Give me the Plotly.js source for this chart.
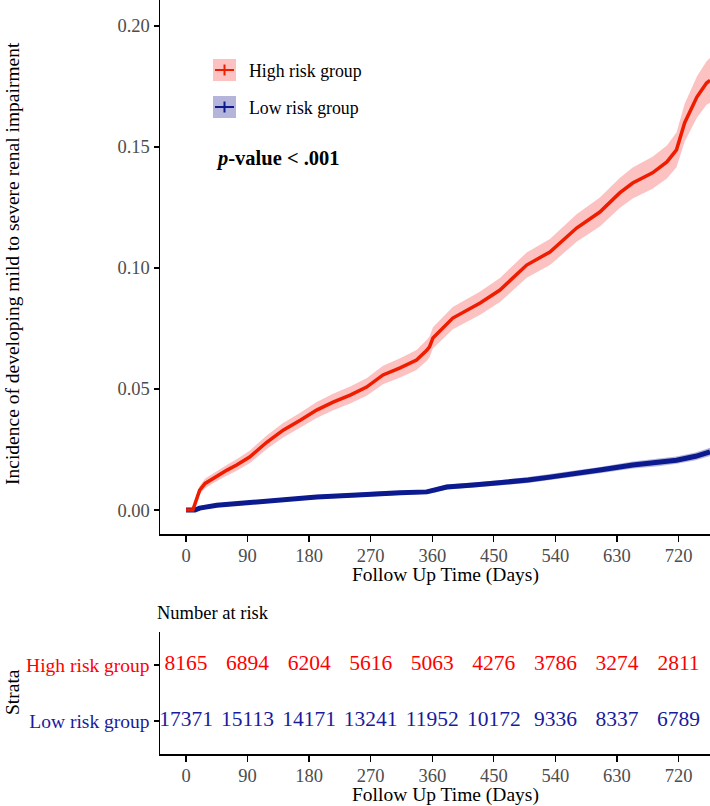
<!DOCTYPE html>
<html>
<head>
<meta charset="utf-8">
<script src="https://cdn.plot.ly/plotly-3.0.1.min.js"></script>
<style>html,body{margin:0;padding:0;background:#fff;}#chart{width:710px;height:806px;}</style>
</head>
<body>
<div id="chart"></div>
<script>
// ---- Data ----
const highDays = [0, 10, 16, 20, 28, 40, 60, 74, 93, 118, 142, 167, 191, 215, 240, 264, 288, 313, 337, 352, 356, 361, 390, 430, 459, 498, 532, 571, 605, 634, 653, 682, 703, 717, 729, 747, 761, 766];
const highEst  = [0, 0, 0.0049, 0.0082, 0.011, 0.0132, 0.0165, 0.0186, 0.0219, 0.028, 0.033, 0.0371, 0.0413, 0.0446, 0.0475, 0.0508, 0.0558, 0.0587, 0.062, 0.066, 0.0674, 0.0711, 0.0793, 0.0855, 0.0909, 0.1012, 0.1066, 0.1165, 0.1231, 0.131, 0.1351, 0.1393, 0.1438, 0.1488, 0.16, 0.1707, 0.1764, 0.1775];
const highHalfCI = [0, 0, 0.0015, 0.0017, 0.002, 0.002, 0.0022, 0.0024, 0.0026, 0.0028, 0.003, 0.0031, 0.0033, 0.0034, 0.0035, 0.0036, 0.0038, 0.004, 0.0041, 0.0043, 0.0043, 0.0044, 0.0046, 0.0048, 0.005, 0.0052, 0.0054, 0.0057, 0.006, 0.0062, 0.0064, 0.0066, 0.0068, 0.0072, 0.0078, 0.0085, 0.009, 0.0092];

const lowDays = [0, 13, 20, 30, 45, 89, 142, 191, 250, 288, 313, 352, 365, 381, 420, 454, 500, 532, 570, 605, 653, 690, 717, 745, 766];
const lowEst  = [0, 0, 0.0008, 0.0014, 0.002, 0.003, 0.0045, 0.0054, 0.0062, 0.007, 0.0071, 0.0075, 0.0082, 0.0095, 0.0103, 0.0111, 0.0124, 0.0136, 0.015, 0.0165, 0.0186, 0.0196, 0.0206, 0.0222, 0.024];
const lowHalfCI = [0, 0, 0.0003, 0.0004, 0.0005, 0.0006, 0.0007, 0.0008, 0.0008, 0.0009, 0.0009, 0.0009, 0.001, 0.001, 0.0011, 0.0011, 0.0012, 0.0012, 0.0013, 0.0013, 0.0014, 0.0015, 0.0015, 0.0016, 0.0017];

const riskTimes = [0, 90, 180, 270, 360, 450, 540, 630, 720];
const highRisk = [8165, 6894, 6204, 5616, 5063, 4276, 3786, 3274, 2811];
const lowRisk  = [17371, 15113, 14171, 13241, 11952, 10172, 9336, 8337, 6789];

const groupNames = ['High risk group', 'Low risk group'];
const yTicks = [0, 0.05, 0.10, 0.15, 0.20];
const yTickText = ['0.00', '0.05', '0.10', '0.15', '0.20'];

// ---- Styles ----
const FONT = 'Liberation Serif, Times New Roman, serif';
const RED_LINE = '#F01C00', RED_FILL = 'rgba(248,118,118,0.45)', RED_TXT = '#FF0000';
const BLUE_LINE = '#0B1A8E', BLUE_FILL = 'rgba(90,90,175,0.45)', BLUE_TXT = '#1A1A9C';

const sub = (a, b) => a.map((v, i) => v - b[i]);
const add = (a, b) => a.map((v, i) => v + b[i]);

function band(days, est, half, fill) {
  return [
    {x: days, y: sub(est, half), type: 'scatter', mode: 'lines', line: {width: 0, color: fill}, showlegend: false, hoverinfo: 'skip', xaxis: 'x', yaxis: 'y'},
    {x: days, y: add(est, half), type: 'scatter', mode: 'lines', line: {width: 0, color: fill}, fill: 'tonexty', fillcolor: fill, showlegend: false, hoverinfo: 'skip', xaxis: 'x', yaxis: 'y'}
  ];
}

const traces = [
  ...band(highDays, highEst, highHalfCI, RED_FILL),
  ...band(lowDays, lowEst, lowHalfCI, BLUE_FILL),
  {x: lowDays, y: lowEst, type: 'scatter', mode: 'lines', name: groupNames[1], line: {color: BLUE_LINE, width: 5}, showlegend: false, xaxis: 'x', yaxis: 'y'},
  {x: highDays, y: highEst, type: 'scatter', mode: 'lines', name: groupNames[0], line: {color: RED_LINE, width: 3.5}, showlegend: false, xaxis: 'x', yaxis: 'y'},
  {x: riskTimes, y: riskTimes.map(() => 2), text: highRisk.map(String), type: 'scatter', mode: 'text', textposition: 'middle center', textfont: {family: FONT, size: 21.5, color: RED_TXT}, showlegend: false, hoverinfo: 'skip', xaxis: 'x2', yaxis: 'y2', cliponaxis: false},
  {x: riskTimes, y: riskTimes.map(() => 1), text: lowRisk.map(String), type: 'scatter', mode: 'text', textposition: 'middle center', textfont: {family: FONT, size: 21.5, color: BLUE_TXT}, showlegend: false, hoverinfo: 'skip', xaxis: 'x2', yaxis: 'y2', cliponaxis: false}
];

// px -> paper helpers (plot area: x 160..710, y 0..754)
const px = v => (v - 160) / 550;
const py = v => 1 - v / 754;

const commonX = {
  range: [-38, 766], tickvals: riskTimes, ticktext: riskTimes.map(String),
  ticks: 'outside', ticklen: 6, tickwidth: 1.3, tickcolor: '#000', ticklabelstandoff: -2,
  showline: true, linecolor: '#000', linewidth: 1.5, showgrid: false, zeroline: false,
  tickfont: {family: FONT, size: 18.5, color: '#4D4D4D'}
};

const shapes = [];
const legendRows = [{yc: 70, fill: RED_FILL, line: RED_LINE}, {yc: 107, fill: BLUE_FILL, line: BLUE_LINE}];
legendRows.forEach(r => {
  shapes.push({type: 'rect', xref: 'paper', yref: 'paper', x0: px(213), x1: px(236), y0: py(r.yc + 11), y1: py(r.yc - 11), fillcolor: r.fill, line: {width: 0}});
  shapes.push({type: 'line', xref: 'paper', yref: 'paper', x0: px(215), x1: px(234), y0: py(r.yc), y1: py(r.yc), line: {color: r.line, width: 2}});
  shapes.push({type: 'line', xref: 'paper', yref: 'paper', x0: px(224.5), x1: px(224.5), y0: py(r.yc - 5.5), y1: py(r.yc + 5.5), line: {color: r.line, width: 2}});
});

const xTitle = 'Follow Up Time (Days)';
const annotations = [
  {text: groupNames[0], xref: 'paper', yref: 'paper', x: px(247), y: py(71), xanchor: 'left', yanchor: 'middle', showarrow: false, font: {family: FONT, size: 17.8, color: '#000'}},
  {text: groupNames[1], xref: 'paper', yref: 'paper', x: px(247), y: py(108), xanchor: 'left', yanchor: 'middle', showarrow: false, font: {family: FONT, size: 17.8, color: '#000'}},
  {text: '<b><i>p</i>-value &lt; .001</b>', xref: 'paper', yref: 'paper', x: px(214), y: py(158), xanchor: 'left', yanchor: 'middle', showarrow: false, font: {family: FONT, size: 20.5, color: '#000'}},
  {text: 'Incidence of developing mild to severe renal impairment', xref: 'paper', yref: 'paper', x: px(12), y: py(264), xanchor: 'center', yanchor: 'middle', textangle: -90, showarrow: false, font: {family: FONT, size: 19.5, color: '#000'}},
  {text: 'Strata', xref: 'paper', yref: 'paper', x: px(12), y: py(692), xanchor: 'center', yanchor: 'middle', textangle: -90, showarrow: false, font: {family: FONT, size: 19.5, color: '#000'}},
  {text: 'Number at risk', xref: 'paper', yref: 'paper', x: px(155), y: py(613), xanchor: 'left', yanchor: 'middle', showarrow: false, font: {family: FONT, size: 18.5, color: '#000'}},
  {text: xTitle, xref: 'paper', yref: 'paper', x: px(445), y: py(575), xanchor: 'center', yanchor: 'middle', showarrow: false, font: {family: FONT, size: 19.5, color: '#000'}},
  {text: xTitle, xref: 'paper', yref: 'paper', x: px(445), y: py(795), xanchor: 'center', yanchor: 'middle', showarrow: false, font: {family: FONT, size: 19.5, color: '#000'}}
];

const layout = {
  width: 710, height: 806,
  margin: {l: 160, r: 0, t: 0, b: 52},
  paper_bgcolor: '#fff', plot_bgcolor: '#fff',
  showlegend: false,
  xaxis: Object.assign({}, commonX, {domain: [0, 1], anchor: 'y'}),
  yaxis: {domain: [py(534), 1], anchor: 'x', range: [-0.0099, 0.2107], tickvals: yTicks, ticktext: yTickText,
    ticks: 'outside', ticklen: 5, tickwidth: 1.3, tickcolor: '#000', showline: true, linecolor: '#000', linewidth: 1.5,
    showgrid: false, zeroline: false, tickfont: {family: FONT, size: 18.5, color: '#4D4D4D'}},
  xaxis2: Object.assign({}, commonX, {domain: [0, 1], anchor: 'y2'}),
  yaxis2: {domain: [0, py(632)], anchor: 'x2', range: [0.41, 2.59], tickvals: [2, 1],
    ticktext: ['<span style="color:' + RED_TXT + '">' + groupNames[0] + '</span>', '<span style="color:' + BLUE_TXT + '">' + groupNames[1] + '</span>'],
    ticks: 'outside', ticklen: 5, tickwidth: 1.3, tickcolor: '#000', showline: true, linecolor: '#000', linewidth: 1.5,
    showgrid: false, zeroline: false, tickfont: {family: FONT, size: 19.5, color: '#000'}},
  shapes: shapes,
  annotations: annotations
};

Plotly.newPlot('chart', traces, layout, {displayModeBar: false, staticPlot: true});
</script>
</body>
</html>
